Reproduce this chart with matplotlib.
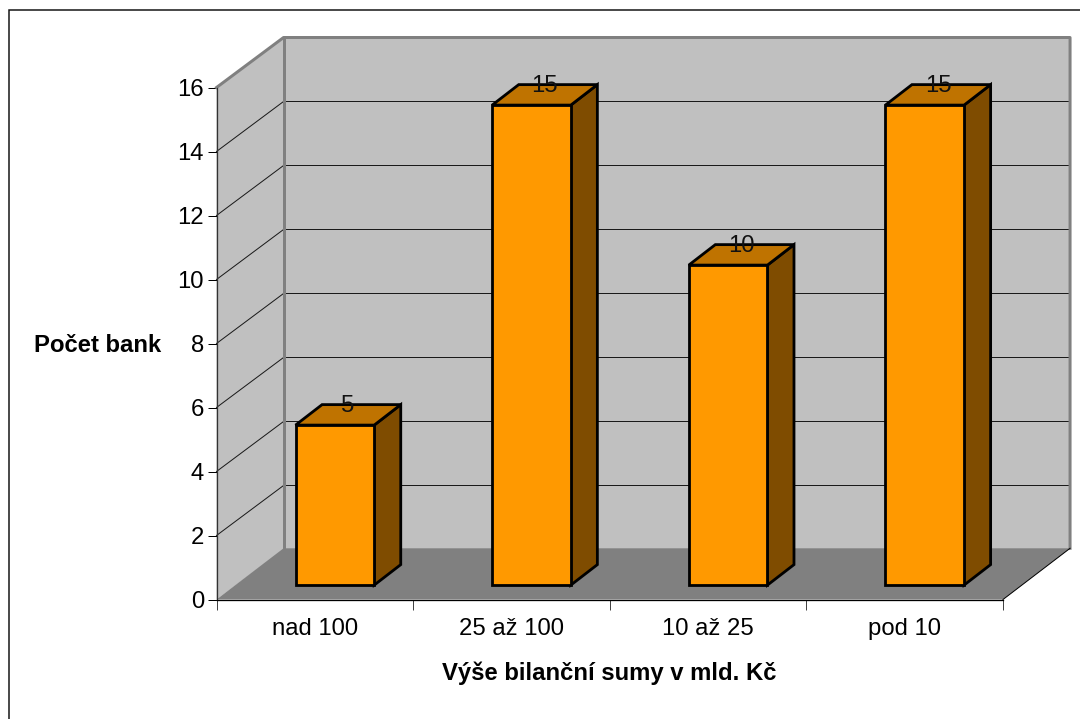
"""
Recreates the Excel style 3D column chart of banks by balance sheet total.
"""
import matplotlib
matplotlib.use('Agg')
import matplotlib.pyplot as plt
from matplotlib.patches import Rectangle

categories = ['nad 100', '25 až 100', '10 až 25', 'pod 10']
bank_counts = [5, 15, 10, 15]
y_ticks = [0, 2, 4, 6, 8, 10, 12, 14, 16]

x_label = 'Výše bilanční sumy v mld. Kč'
y_label = 'Počet bank'

# depth of the 3D box and of the bars, in data units
WALL_DX = 0.341
WALL_DY = 1.5625
FLOOR_DY = 1.6
BAR_DX = 0.135
BAR_DY = 0.64
BAR_SHIFT_X = 0.102
BAR_SHIFT_Y = 0.45
BAR_WIDTH = 0.40

FONT_SIZE = 17.2
PX = 0.72  # one pixel in points at 100 dpi


def draw_walls(ax, y_max, n):
    # left wall, back wall, floor
    ax.fill([0, WALL_DX, WALL_DX, 0], [0, WALL_DY, y_max + WALL_DY, y_max],
            color='#C0C0C0', lw=0, clip_on=False, zorder=1)
    ax.fill([WALL_DX, n + WALL_DX, n + WALL_DX, WALL_DX],
            [WALL_DY, WALL_DY, y_max + WALL_DY, y_max + WALL_DY],
            color='#C0C0C0', lw=0, clip_on=False, zorder=1)
    ax.fill([0, n, n + WALL_DX, WALL_DX], [0, 0, FLOOR_DY, FLOOR_DY],
            color='#808080', lw=0, clip_on=False, zorder=1)

    for tick in y_ticks[1:-1]:
        ax.plot([0, WALL_DX, n + WALL_DX],
                [tick, tick + WALL_DY, tick + WALL_DY],
                color='#1a1a1a', lw=PX, clip_on=False, zorder=2)

    ax.plot([0, WALL_DX, n + WALL_DX, n + WALL_DX],
            [y_max, y_max + WALL_DY, y_max + WALL_DY, FLOOR_DY],
            color='#808080', lw=3 * PX, clip_on=False, zorder=2)
    ax.plot([WALL_DX, WALL_DX], [FLOOR_DY, y_max + WALL_DY],
            color='#808080', lw=3 * PX, clip_on=False, zorder=2)
    ax.plot([n, n + WALL_DX], [0, FLOOR_DY],
            color='black', lw=PX, clip_on=False, zorder=2)


def draw_bar(ax, index, value):
    left = index + 0.5 + BAR_SHIFT_X - BAR_WIDTH / 2
    right = left + BAR_WIDTH
    base = BAR_SHIFT_Y
    top = value + BAR_SHIFT_Y
    style = dict(edgecolor='black', lw=2.8 * PX, clip_on=False, zorder=3,
                 joinstyle='miter')

    ax.fill([right, right + BAR_DX, right + BAR_DX, right],
            [base, base + BAR_DY, top + BAR_DY, top],
            facecolor='#7F4C00', **style)
    ax.fill([left, right, right + BAR_DX, left + BAR_DX],
            [top, top, top + BAR_DY, top + BAR_DY],
            facecolor='#BF7300', **style)
    ax.fill([left, right, right, left], [base, base, top, top],
            facecolor='#FF9900', **style)

    ax.annotate(str(value), (left + BAR_WIDTH / 2 + BAR_DX / 2, top + BAR_DY / 2),
                xytext=(0, 6.5), textcoords='offset points', ha='center',
                va='center', fontsize=FONT_SIZE, color='#111111', zorder=4,
                annotation_clip=False)


def main():
    plt.rcParams['font.family'] = ['Liberation Sans', 'DejaVu Sans']

    fig = plt.figure(figsize=(10.8, 7.19), dpi=100)
    # outer chart frame, runs off the right and bottom of the picture
    fig.add_artist(Rectangle((9 / 1080, -0.1), 1.2, 1.1 - 10.5 / 719,
                             transform=fig.transFigure, fill=False,
                             edgecolor='#111111', lw=1.5 * PX))

    ax = fig.add_axes([216.5 / 1080, (719 - 599.5) / 719, 786.5 / 1080, 512 / 719])
    ax.patch.set_visible(False)

    n = len(categories)
    y_max = y_ticks[-1]
    ax.set_xlim(0, n)
    ax.set_ylim(0, y_max)

    draw_walls(ax, y_max, n)
    for i, value in enumerate(bank_counts):
        draw_bar(ax, i, value)

    for side in ['top', 'right']:
        ax.spines[side].set_visible(False)
    ax.spines['left'].set_color('#333333')
    ax.spines['left'].set_linewidth(1.3 * PX)
    ax.spines['bottom'].set_color('black')
    ax.spines['bottom'].set_linewidth(1.3 * PX)

    ax.set_yticks(y_ticks)
    ax.tick_params(axis='y', length=9 * PX, width=PX, labelsize=FONT_SIZE, pad=2.5)
    ax.set_xticks(range(n + 1))
    ax.set_xticklabels([])
    ax.tick_params(axis='x', which='major', length=10 * PX, width=PX, color='#444444')
    ax.set_xticks([i + 0.5 for i in range(n)], minor=True)
    ax.set_xticklabels(categories, minor=True)
    ax.tick_params(axis='x', which='minor', length=0, labelsize=FONT_SIZE, pad=13.5)

    ax.set_xlabel(x_label, fontsize=FONT_SIZE, fontweight='bold')
    ax.xaxis.set_label_coords(0.5, -62 / 512, transform=ax.transAxes)
    ax.set_ylabel(y_label, fontsize=FONT_SIZE, fontweight='bold', rotation=0,
                  ha='center', va='center')
    ax.yaxis.set_label_coords(-118.5 / 786.5, 253.5 / 512)

    fig.savefig('out.png', dpi=100)


if __name__ == '__main__':
    main()
